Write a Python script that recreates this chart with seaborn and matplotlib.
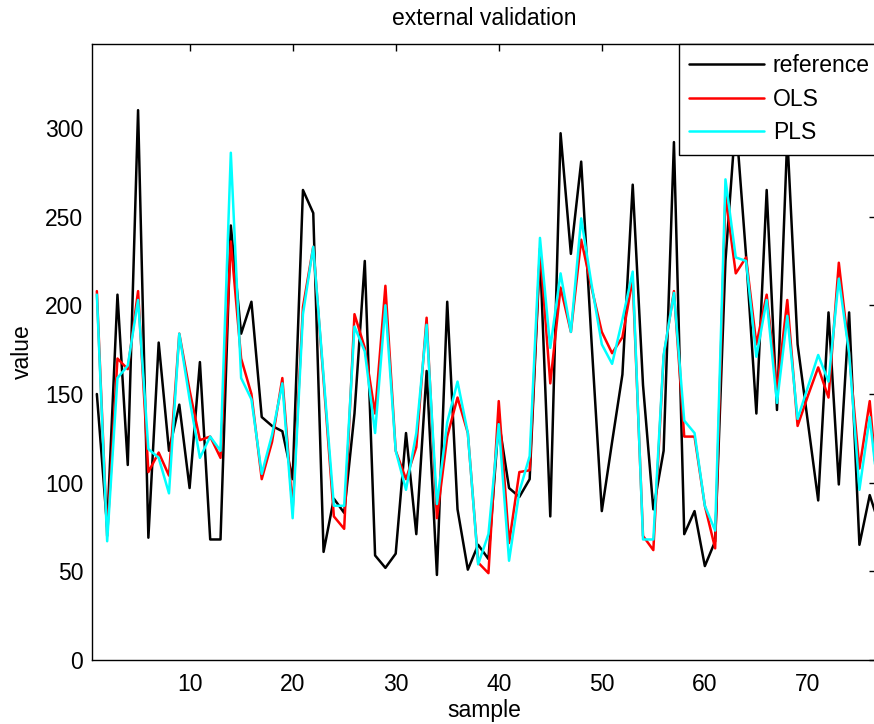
import numpy as np
import pandas as pd
import matplotlib
matplotlib.use("Agg")
import matplotlib.pyplot as plt
from matplotlib.lines import Line2D
import seaborn as sns

# ---- data ----
reference = [150, 75, 206, 110, 310, 69, 179, 118, 144, 97,
             168, 68, 68, 245, 184, 202, 137, 132, 129, 102,
             265, 252, 61, 91, 83, 139, 225, 59, 52, 60,
             128, 71, 163, 48, 202, 85, 51, 65, 57, 135,
             97, 92, 102, 230, 81, 297, 229, 281, 180, 84,
             123, 161, 268, 155, 85, 118, 292, 71, 84, 53,
             67, 225, 305, 228, 139, 265, 141, 295, 178, 134,
             90, 196, 99, 196, 65, 93, 75]
ols = [208, 70, 170, 164, 208, 106, 117, 104, 184, 152,
       124, 126, 114, 236, 170, 150, 102, 123, 159, 85,
       199, 233, 158, 81, 74, 195, 176, 139, 211, 118,
       102, 120, 193, 80, 126, 148, 128, 55, 49, 146,
       66, 106, 107, 232, 156, 210, 185, 237, 210, 185,
       173, 182, 215, 70, 62, 171, 208, 126, 126, 87,
       63, 262, 218, 227, 178, 206, 152, 203, 132, 149,
       165, 148, 224, 173, 108, 146, 80]
pls = [206, 67, 159, 166, 203, 119, 114, 94, 184, 147,
       114, 126, 118, 286, 159, 147, 105, 127, 156, 80,
       195, 233, 160, 87, 87, 188, 174, 128, 200, 118,
       96, 128, 189, 88, 134, 157, 128, 54, 71, 133,
       56, 95, 115, 238, 176, 218, 185, 249, 212, 178,
       167, 192, 219, 68, 68, 172, 207, 135, 128, 87,
       73, 271, 227, 225, 171, 203, 145, 194, 136, 154,
       172, 157, 215, 173, 96, 137, 85]
series_names = ["reference", "OLS", "PLS"]
series_colors = ["#000000", "#FF0000", "#00FFFF"]
xticks = [10, 20, 30, 40, 50, 60, 70]
yticks = [0, 50, 100, 150, 200, 250, 300]

samples = np.arange(1, len(reference) + 1)
df = pd.concat([
    pd.DataFrame({"sample": samples, "value": vals, "series": name})
    for name, vals in zip(series_names, [reference, ols, pls])
], ignore_index=True)
palette = dict(zip(series_names, series_colors))

sns.set_theme(style="white")
plt.rcParams["font.family"] = ["Liberation Sans", "DejaVu Sans"]
plt.rcParams["text.color"] = "black"
plt.rcParams["axes.labelcolor"] = "black"
plt.rcParams["xtick.color"] = "black"
plt.rcParams["ytick.color"] = "black"

FS = 16.5
W, H = 874, 724
fig = plt.figure(figsize=(W / 100, H / 100), dpi=100)
left_px, right_px, top_px, bottom_px = 91.7, 876.0, 44.0, 660.1
ax = fig.add_axes([left_px / W, (H - bottom_px) / H,
                   (right_px - left_px) / W, (bottom_px - top_px) / H])

sns.lineplot(data=df, x="sample", y="value", hue="series",
             hue_order=series_names, palette=palette, sort=False,
             estimator=None, linewidth=1.8, legend=False, ax=ax)

ax.set_xlim(0.5, 0.5 + (right_px - left_px) / 10.305)
ax.set_ylim(0, 347.3)
ax.set_xticks(xticks)
ax.set_yticks(yticks)
ax.tick_params(direction="in", length=5, width=1, top=True, right=True,
               labelsize=FS, color="black", labelcolor="black")
ax.tick_params(axis="y", pad=6)
ax.tick_params(axis="x", pad=9.2)
for s in ax.spines.values():
    s.set_color("black")
    s.set_linewidth(1.0)

ax.set_title("external validation", fontsize=FS, pad=14, color="black")
ax.set_xlabel("sample", fontsize=FS, labelpad=2.5, color="black")
ax.set_ylabel("value", fontsize=FS, labelpad=8, color="black")

handles = [Line2D([], [], color=c, linewidth=1.8) for c in series_colors]
leg = ax.legend(handles, series_names, loc="upper left",
                bbox_to_anchor=(679 / W, 1 - top_px / H),
                bbox_transform=fig.transFigure, borderaxespad=0,
                fancybox=False, edgecolor="black", framealpha=1,
                borderpad=0.45, labelspacing=0.46, handlelength=3.25,
                handletextpad=0.4, fontsize=FS)
leg.get_frame().set_linewidth(1.0)
for t in leg.get_texts():
    t.set_color("black")

fig.savefig("out.png", dpi=100)
